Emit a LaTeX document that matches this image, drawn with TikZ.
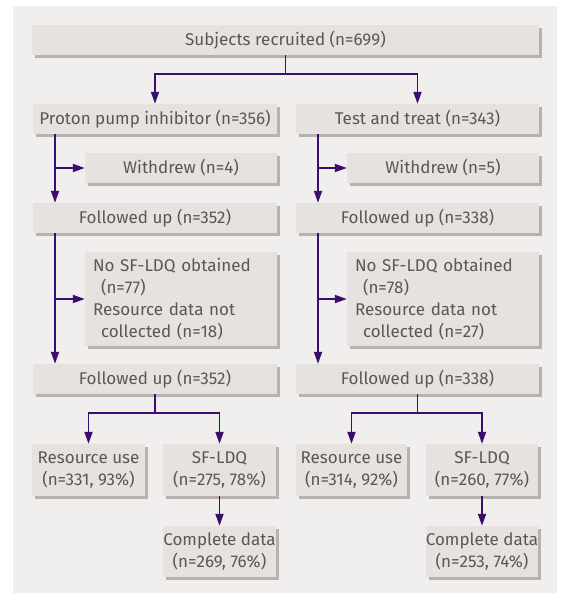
\documentclass[tikz,border=0pt]{standalone}
\usepackage{fontspec}
\setmainfont{Fira Sans}
\usetikzlibrary{arrows.meta,shadows,calc}
\definecolor{panel}{HTML}{F0EFEE}
\definecolor{boxc}{HTML}{E6E2DF}
\definecolor{shad}{HTML}{B8B1AD}
\definecolor{txt}{HTML}{5C5755}
\definecolor{arrc}{HTML}{3B0D6E}
\begin{document}
\begin{tikzpicture}[x=1pt,y=-1pt,
  box/.style={fill=boxc, text=txt, inner sep=0pt, font=\fontsize{17}{22}\selectfont,
    drop shadow={shadow xshift=3pt,shadow yshift=-3pt,fill=shad,opacity=1}, align=center},
  wide/.style={minimum width=244pt, minimum height=30pt},
  side/.style={minimum width=192pt, minimum height=30pt},
  small/.style={minimum width=113pt, minimum height=52pt},
  note/.style={text width=176pt, inner xsep=8pt, minimum height=94pt, align=left},
  arr/.style={draw=arrc, line width=1.8pt, -{Triangle[length=12pt,width=8pt]}}]
\useasboundingbox (0,0) rectangle (560,594);
\fill[panel] (13,6) rectangle (557,593);

\node[box, minimum width=507pt, minimum height=30pt] (sub) at (285.5,40) {Subjects recruited (n=699)};

\node[box, wide] (ppi) at (155,119) {Proton pump inhibitor (n=356)};
\node[box, wide, minimum width=243pt] (tt) at (417.5,119) {Test and treat (n=343)};

\node[box, side] (wd1) at (181,168) {Withdrew (n=4)};
\node[box, side] (wd2) at (443,168) {Withdrew (n=5)};

\node[box, wide] (fu1) at (155,218) {Followed up (n=352)};
\node[box, wide, minimum width=243pt] (fu2) at (417.5,218) {Followed up (n=338)};

\node[box, note] (ns1) at (181,299) {No SF-LDQ obtained\\\hspace*{8pt}(n=77)\\Resource data not\\\hspace*{8pt}collected (n=18)};
\node[box, note] (ns2) at (443,299) {No SF-LDQ obtained\\\hspace*{8pt}(n=78)\\Resource data not\\\hspace*{8pt}collected (n=27)};

\node[box, wide] (fa1) at (155,379) {Followed up (n=352)};
\node[box, wide, minimum width=243pt] (fa2) at (417.5,379) {Followed up (n=338)};

\node[box, small] (ru1) at (88.5,470) {Resource use\\(n=331, 93\%)};
\node[box, small] (sf1) at (219.5,470) {SF-LDQ\\(n=275, 78\%)};
\node[box, small, minimum width=111pt] (ru2) at (351.5,470) {Resource use\\(n=314, 92\%)};
\node[box, small, minimum width=112pt] (sf2) at (482,470) {SF-LDQ\\(n=260, 77\%)};

\node[box, small, minimum height=51pt] (cd1) at (219.5,551.5) {Complete data\\(n=269, 76\%)};
\node[box, small, minimum width=112pt, minimum height=51pt] (cd2) at (482,551.5) {Complete data\\(n=253, 74\%)};

% top split
\coordinate (j1) at (285.5,74);
\draw[arr] (sub.south) -- (j1) -| (ppi.north);
\draw[arr] (j1) -| (tt.north);

% left column
\coordinate (lx) at (55,0);
\draw[arr] (ppi.south -| lx) -- (fu1.north -| lx);
\draw[arr] (wd1.west -| lx) -- (wd1.west);
\draw[arr] (fu1.south -| lx) -- (fa1.north -| lx);
\draw[arr] (ns1.west -| lx) -- (ns1.west);

% right column
\coordinate (rx) at (318,0);
\draw[arr] (tt.south -| rx) -- (fu2.north -| rx);
\draw[arr] (wd2.west -| rx) -- (wd2.west);
\draw[arr] (fu2.south -| rx) -- (fa2.north -| rx);
\draw[arr] (ns2.west -| rx) -- (ns2.west);

% bottom splits
\coordinate (j2) at ($(fa1.south)+(0,19)$);
\draw[arr] (fa1.south) -- (j2) -| (ru1.north);
\draw[arr] (j2) -| (sf1.north);
\draw[arr] (sf1.south) -- (cd1.north);

\coordinate (j3) at ($(fa2.south)+(0,19)$);
\draw[arr] (fa2.south) -- (j3) -| (ru2.north);
\draw[arr] (j3) -| (sf2.north);
\draw[arr] (sf2.south) -- (cd2.north);
\end{tikzpicture}
\end{document}
